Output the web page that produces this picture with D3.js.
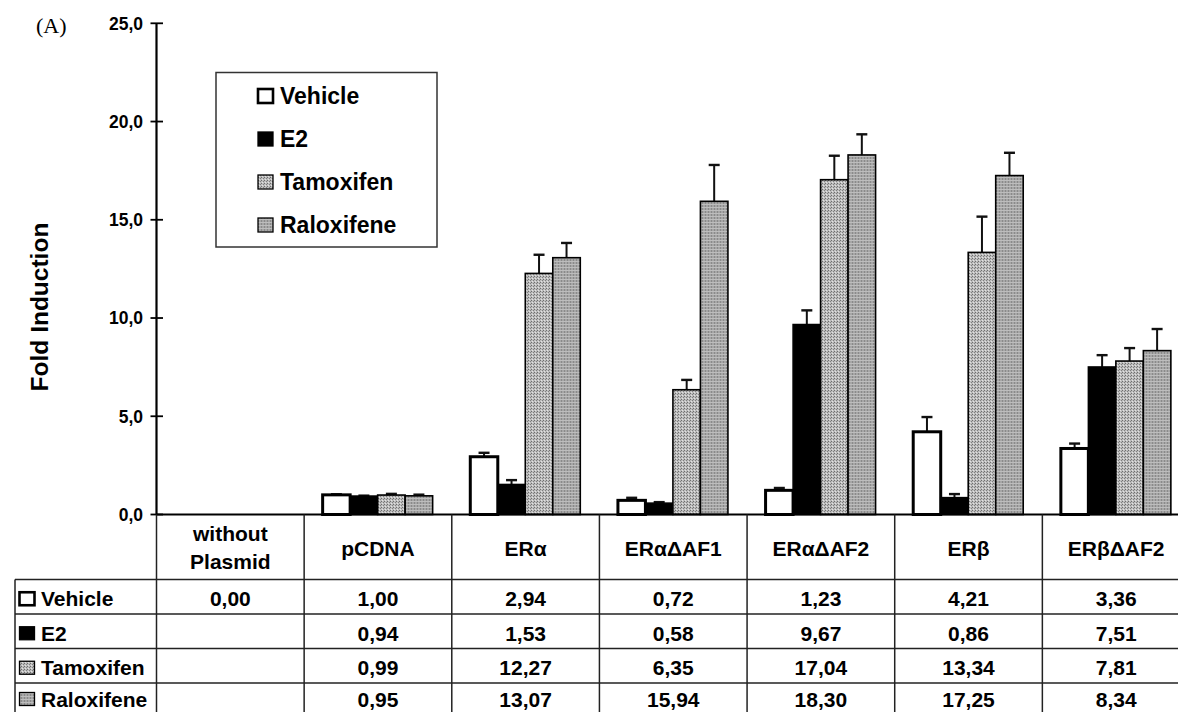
<!DOCTYPE html>
<html>
<head>
<meta charset="utf-8">
<script src="https://cdn.jsdelivr.net/npm/d3@7"></script>
<style>
  body { margin: 0; background: #fff; }
  svg { display: block; font-family: "Liberation Sans", Arial, sans-serif; }
  .bold { font-weight: bold; }
</style>
</head>
<body>
<svg id="chart"></svg>
<script>
// Data
const categories = ["without Plasmid", "pCDNA", "ERα", "ERαΔAF1", "ERαΔAF2", "ERβ", "ERβΔAF2"];
const seriesNames = ["Vehicle", "E2", "Tamoxifen", "Raloxifene"];
const vehicle    = [0, 1.00, 2.94, 0.72, 1.23, 4.21, 3.36];
const e2         = [null, 0.94, 1.53, 0.58, 9.67, 0.86, 7.51];
const tamoxifen  = [null, 0.99, 12.27, 6.35, 17.04, 13.34, 7.81];
const raloxifene = [null, 0.95, 13.07, 15.94, 18.30, 17.25, 8.34];
// error bars (upper half only)
const vehicleErr    = [0, 0.03, 0.20, 0.13, 0.12, 0.75, 0.25];
const e2Err         = [null, 0.02, 0.22, 0.05, 0.72, 0.18, 0.60];
const tamoxifenErr  = [null, 0.06, 0.95, 0.50, 1.22, 1.82, 0.66];
const raloxifeneErr = [null, 0.06, 0.75, 1.85, 1.05, 1.16, 1.10];
const yTicks = [0, 5, 10, 15, 20, 25];

const values = [vehicle, e2, tamoxifen, raloxifene];
const errors = [vehicleErr, e2Err, tamoxifenErr, raloxifeneErr];

// comma decimal
const locale = d3.formatLocale({ decimal: ",", thousands: ".", grouping: [3], currency: ["", ""] });
const fmt1 = locale.format(".1f");
const fmt2 = locale.format(".2f");

const W = 1178, H = 712;
const svg = d3.select("#chart").attr("width", W).attr("height", H);

// Scales
const axisX = 156.5, tableRight = 1190;
const x0 = d3.scaleBand().domain(categories).range([axisX, tableRight]).padding(0);
const x1 = d3.scaleBand().domain(seriesNames).range([18.5, 128.5]).padding(0);
const y = d3.scaleLinear().domain([0, 25]).range([514.5, 23.3]);

// Patterns
const defs = svg.append("defs");
const pTam = defs.append("pattern").attr("id", "pTam")
    .attr("patternUnits", "userSpaceOnUse").attr("width", 3).attr("height", 3);
pTam.append("rect").attr("width", 3).attr("height", 3).attr("fill", "#bdbdbd");
pTam.append("rect").attr("x", 0).attr("y", 0).attr("width", 1).attr("height", 1).attr("fill", "#6e6e6e");
pTam.append("rect").attr("x", 2).attr("y", 1).attr("width", 1).attr("height", 1).attr("fill", "#808080");
pTam.append("rect").attr("x", 1).attr("y", 2).attr("width", 1).attr("height", 1).attr("fill", "#e2e2e2");

const pRal = defs.append("pattern").attr("id", "pRal")
    .attr("patternUnits", "userSpaceOnUse").attr("width", 3).attr("height", 3);
pRal.append("rect").attr("width", 3).attr("height", 3).attr("fill", "#a6a6a6");
pRal.append("rect").attr("x", 0).attr("y", 0).attr("width", 1).attr("height", 3).attr("fill", "#8a8a8a");
pRal.append("rect").attr("x", 0).attr("y", 0).attr("width", 3).attr("height", 1).attr("fill", "#bdbdbd");

const fills = { Vehicle: "#ffffff", E2: "#000000", Tamoxifen: "url(#pTam)", Raloxifene: "url(#pRal)" };
const strokeW = { Vehicle: 3, E2: 1.5, Tamoxifen: 1.6, Raloxifene: 1.6 };

// Panel label
svg.append("text").attr("x", 36).attr("y", 33)
    .style("font-family", "'Liberation Serif', 'Times New Roman', serif")
    .style("font-size", "22px").text("(A)");

// Y axis
const yAxis = svg.append("g");
yAxis.append("line").attr("x1", axisX).attr("x2", axisX)
    .attr("y1", y(25)).attr("y2", y(0)).attr("stroke", "#000").attr("stroke-width", 2.2);
yAxis.selectAll(".tick").data(yTicks).enter().append("line")
    .attr("x1", axisX - 6).attr("x2", axisX + 6.5)
    .attr("y1", d => y(d)).attr("y2", d => y(d))
    .attr("stroke", "#000").attr("stroke-width", 1.8);
yAxis.selectAll(".tl").data(yTicks).enter().append("text")
    .attr("class", "bold")
    .attr("x", 143).attr("y", d => y(d)).attr("dy", "0.36em")
    .attr("text-anchor", "end").style("font-size", "17.5px")
    .text(d => fmt1(d));

svg.append("text").attr("class", "bold")
    .attr("transform", "translate(48,307) rotate(-90)")
    .attr("text-anchor", "middle").style("font-size", "24.5px")
    .text("Fold Induction");

// Bars
const rows = [];
categories.forEach((c, i) => {
    seriesNames.forEach((s, k) => {
        const v = values[k][i];
        if (v !== null && v > 0) rows.push({ cat: c, series: s, v: v, e: errors[k][i] });
    });
});

// error bars first (drawn behind bar tops)
const eb = svg.append("g").selectAll("g").data(rows).enter().append("g");
eb.append("line")
    .attr("x1", d => x0(d.cat) + x1(d.series) + x1.bandwidth() / 2)
    .attr("x2", d => x0(d.cat) + x1(d.series) + x1.bandwidth() / 2)
    .attr("y1", d => y(d.v)).attr("y2", d => y(d.v + d.e))
    .attr("stroke", "#111").attr("stroke-width", 2);
eb.append("line")
    .attr("x1", d => x0(d.cat) + x1(d.series) + x1.bandwidth() / 2 - 5.5)
    .attr("x2", d => x0(d.cat) + x1(d.series) + x1.bandwidth() / 2 + 5.5)
    .attr("y1", d => y(d.v + d.e)).attr("y2", d => y(d.v + d.e))
    .attr("stroke", "#111").attr("stroke-width", 2.4);

svg.append("g").selectAll("rect").data(rows).enter().append("rect")
    .attr("x", d => x0(d.cat) + x1(d.series))
    .attr("y", d => y(d.v))
    .attr("width", x1.bandwidth())
    .attr("height", d => y(0) - y(d.v))
    .attr("fill", d => fills[d.series])
    .attr("stroke", "#000")
    .attr("stroke-width", d => strokeW[d.series]);

// Legend box
const legend = svg.append("g");
legend.append("rect").attr("x", 216).attr("y", 72.5).attr("width", 221).attr("height", 174.5)
    .attr("fill", "#fff").attr("stroke", "#333").attr("stroke-width", 1.5);
const legendY = d3.scalePoint().domain(seriesNames).range([96, 225]);
seriesNames.forEach(s => {
    const cy = legendY(s);
    legend.append("rect").attr("x", 258).attr("y", cy - 7).attr("width", 15).attr("height", 14)
        .attr("fill", fills[s]).attr("stroke", "#000").attr("stroke-width", s === "Vehicle" ? 2.6 : 1.3);
    legend.append("text").attr("class", "bold").attr("x", 280).attr("y", cy).attr("dy", "0.36em")
        .style("font-size", "23px").text(s);
});

// Table
const table = svg.append("g");
const rowTop = 579.5, rowH = 34.5, tableLeft = 15;
const rowY = d3.scaleBand().domain(seriesNames).range([rowTop, rowTop + 4 * rowH]);
const lineCol = "#222";
// text centre of a row; last row sits at the picture's bottom edge, keep it inside
const rowMid = s => Math.min(rowY(s) + rowH / 2 + 2, H - 13);

// x axis line (top of header)
table.append("line").attr("x1", axisX).attr("x2", tableRight)
    .attr("y1", y(0)).attr("y2", y(0)).attr("stroke", "#000").attr("stroke-width", 2.2);
// horizontal row lines
seriesNames.forEach(s => {
    table.append("line").attr("x1", tableLeft).attr("x2", tableRight)
        .attr("y1", rowY(s)).attr("y2", rowY(s))
        .attr("stroke", lineCol).attr("stroke-width", 1.5);
});
// vertical column lines
categories.forEach(c => {
    table.append("line").attr("x1", x0(c)).attr("x2", x0(c))
        .attr("y1", y(0)).attr("y2", H + 10)
        .attr("stroke", lineCol).attr("stroke-width", 1.5);
});
table.append("line").attr("x1", tableLeft).attr("x2", tableLeft)
    .attr("y1", rowTop).attr("y2", H + 10)
    .attr("stroke", lineCol).attr("stroke-width", 1.5);

// header labels
categories.forEach(c => {
    const cx = x0(c) + x0.bandwidth() / 2;
    const parts = c === "without Plasmid" ? ["without", "Plasmid"] : [c];
    parts.forEach((p, j) => {
        table.append("text").attr("class", "bold")
            .attr("x", cx).attr("y", parts.length === 1 ? 548 : 533 + j * 28.5)
            .attr("dy", "0.36em").attr("text-anchor", "middle")
            .style("font-size", "21px").text(p);
    });
});

// row labels with swatches
seriesNames.forEach(s => {
    const cy = rowMid(s);
    table.append("rect").attr("x", 19.5).attr("y", cy - 6.5).attr("width", 15).attr("height", 13)
        .attr("fill", fills[s]).attr("stroke", "#000").attr("stroke-width", s === "Vehicle" ? 2.6 : 1.3);
    table.append("text").attr("class", "bold").attr("x", 41).attr("y", cy).attr("dy", "0.36em")
        .style("font-size", "21px").text(s);
});

// cell values
seriesNames.forEach((s, k) => {
    categories.forEach((c, i) => {
        const v = values[k][i];
        if (v === null) return;
        table.append("text").attr("class", "bold")
            .attr("x", x0(c) + x0.bandwidth() / 2)
            .attr("y", rowMid(s)).attr("dy", "0.36em")
            .attr("text-anchor", "middle").style("font-size", "21px")
            .text(fmt2(v));
    });
});
</script>
</body>
</html>
